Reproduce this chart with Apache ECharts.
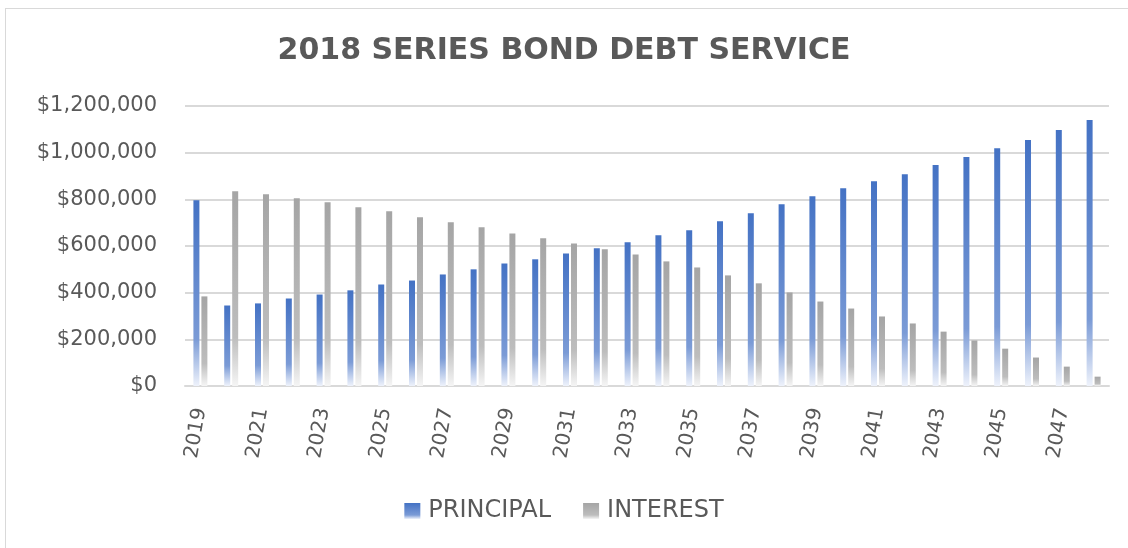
<!DOCTYPE html>
<html lang="en">
<head>
    <meta charset="UTF-8">
    <title>2018 Series Bond Debt Service</title>
    <script src="https://cdn.jsdelivr.net/npm/echarts/dist/echarts.min.js"></script>
    <style>
        body {
            margin: 0;
            background-color: #ffffff;
            overflow: hidden;
        }

        #frame {
            position: absolute;
            left: 5px;
            top: 8px;
            width: 1140px;
            height: 560px;
            border: 1px solid #d9d9d9;
        }

        #chart {
            position: absolute;
            left: 0;
            top: 0;
            width: 1128px;
            height: 548px;
        }
    </style>
</head>
<body>

<div id="frame"></div>
<div id="chart"></div>

<script>
    // years of the schedule
    const years = [];
    for (let y = 2019; y <= 2048; y++) years.push(String(y));

    // principal paid each year
    const principal = [
        796000, 345000, 354000, 375000, 392000, 410000, 435000, 452000, 478000, 500000,
        525000, 543000, 568000, 590000, 616000, 646000, 667000, 706000, 740000, 779000,
        813000, 848000, 878000, 908000, 947000, 981000, 1019000, 1054000, 1097000, 1140000
    ];

    // interest paid each year
    const interest = [
        384000, 835000, 822000, 805000, 788000, 766000, 749000, 723000, 702000, 680000,
        654000, 633000, 611000, 586000, 564000, 534000, 508000, 474000, 440000, 401000,
        362000, 332000, 298000, 268000, 233000, 195000, 160000, 122000, 83000, 40000
    ];

    const textColor = '#595959';
    const font = 'DejaVu Sans';

    // fade to white toward the bottom of each bar
    function fade(top, mid, bottom) {
        return new echarts.graphic.LinearGradient(0, 0, 0, 1, [
            { offset: 0, color: top },
            { offset: 0.75, color: mid },
            { offset: 1, color: bottom }
        ]);
    }

    const chart = echarts.init(document.getElementById('chart'));

    const option = {
        animation: false,
        title: {
            text: '2018 SERIES BOND DEBT SERVICE',
            left: 'center',
            top: 31,
            textStyle: {
                fontFamily: font,
                fontSize: 30,
                fontWeight: 'bold',
                color: textColor
            }
        },
        legend: {
            bottom: 20,
            left: 'center',
            itemWidth: 16,
            itemHeight: 16,
            itemGap: 32,
            icon: 'rect',
            textStyle: {
                fontFamily: font,
                fontSize: 24,
                color: textColor,
                padding: [0, 0, 0, 3]
            }
        },
        grid: {
            left: 185,
            right: 19,
            top: 106,
            bottom: 162
        },
        xAxis: {
            type: 'category',
            data: years,
            axisTick: { show: false },
            axisLine: { lineStyle: { color: '#d9d9d9', width: 2 } },
            axisLabel: {
                interval: 1,
                rotate: 80,
                margin: 22,
                fontFamily: font,
                fontSize: 20,
                color: textColor,
                padding: [0, 0, 0, 0]
            }
        },
        yAxis: {
            type: 'value',
            min: 0,
            max: 1200000,
            interval: 200000,
            axisLine: { show: false },
            axisTick: { show: false },
            splitLine: { lineStyle: { color: '#d9d9d9', width: 2 } },
            axisLabel: {
                margin: 28,
                fontFamily: font,
                fontSize: 21,
                color: textColor,
                formatter: v => '$' + v.toLocaleString('en-US')
            }
        },
        series: [
            {
                name: 'PRINCIPAL',
                type: 'bar',
                data: principal,
                barWidth: 6,
                barGap: '33%',
                itemStyle: { color: fade('#4472c4', '#7b9bd6', '#eef2fb') }
            },
            {
                name: 'INTEREST',
                type: 'bar',
                data: interest,
                barWidth: 6,
                itemStyle: { color: fade('#a5a5a5', '#bdbdbd', '#f5f5f5') }
            }
        ]
    };

    chart.setOption(option);
</script>

</body>
</html>
